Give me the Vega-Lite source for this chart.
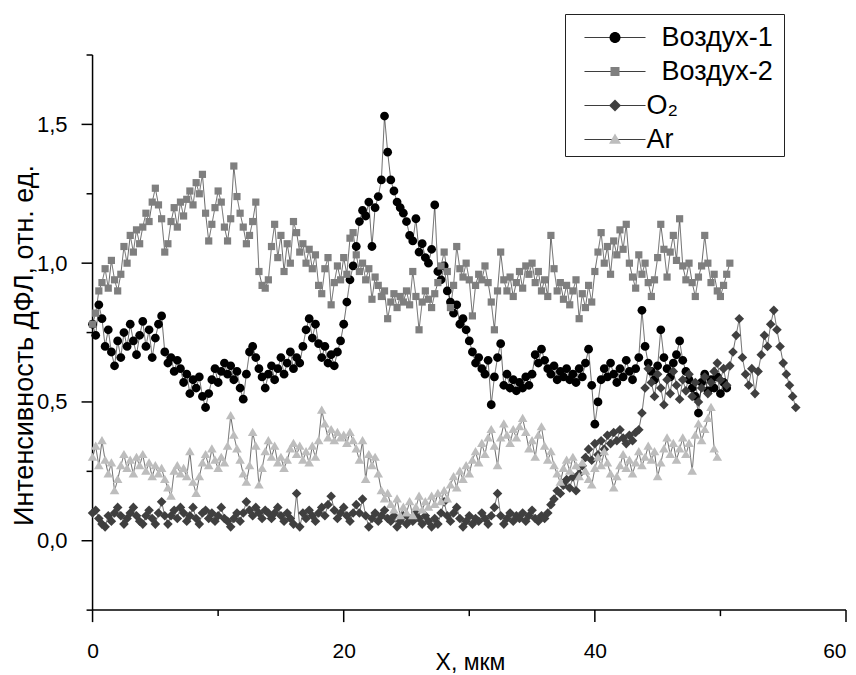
{
"$schema": "https://vega.github.io/schema/vega-lite/v6.json",
"width": 766, "height": 569,
"autosize": {"type": "none"},
"padding": {"left": 80, "top": 55, "right": 10, "bottom": 51},
"background": "white",
"config": {"view": {"stroke": null}, "font": "Liberation Sans"},
"datasets": {"d": [
{"x":0,"a":0.78,"b":0.78,"o":0.10,"r":0.30},
{"x":0.25,"a":0.74,"b":0.82,"o":0.11,"r":0.34},
{"x":0.5,"a":0.85,"b":0.90,"o":0.08,"r":0.27},
{"x":0.75,"a":0.80,"b":0.93,"o":0.06,"r":0.36},
{"x":1,"a":0.70,"b":0.98,"o":0.05,"r":0.29},
{"x":1.25,"a":0.76,"b":0.91,"o":0.09,"r":0.24},
{"x":1.5,"a":0.68,"b":1.01,"o":0.07,"r":0.28},
{"x":1.75,"a":0.63,"b":0.94,"o":0.10,"r":0.18},
{"x":2,"a":0.72,"b":0.90,"o":0.12,"r":0.22},
{"x":2.25,"a":0.66,"b":0.96,"o":0.09,"r":0.27},
{"x":2.5,"a":0.75,"b":1.06,"o":0.06,"r":0.31},
{"x":2.75,"a":0.70,"b":1.00,"o":0.08,"r":0.26},
{"x":3,"a":0.78,"b":1.10,"o":0.10,"r":0.29},
{"x":3.25,"a":0.72,"b":1.04,"o":0.12,"r":0.24},
{"x":3.5,"a":0.67,"b":1.12,"o":0.09,"r":0.30},
{"x":3.75,"a":0.74,"b":1.07,"o":0.07,"r":0.27},
{"x":4,"a":0.79,"b":1.13,"o":0.06,"r":0.31},
{"x":4.25,"a":0.70,"b":1.18,"o":0.09,"r":0.25},
{"x":4.5,"a":0.76,"b":1.15,"o":0.11,"r":0.28},
{"x":4.75,"a":0.66,"b":1.22,"o":0.08,"r":0.23},
{"x":5,"a":0.73,"b":1.27,"o":0.06,"r":0.27},
{"x":5.25,"a":0.78,"b":1.21,"o":0.10,"r":0.24},
{"x":5.5,"a":0.81,"b":1.16,"o":0.14,"r":0.26},
{"x":5.75,"a":0.68,"b":1.04,"o":0.09,"r":0.22},
{"x":6,"a":0.64,"b":1.07,"o":0.06,"r":0.19},
{"x":6.25,"a":0.66,"b":1.15,"o":0.09,"r":0.16},
{"x":6.5,"a":0.61,"b":1.20,"o":0.11,"r":0.25},
{"x":6.75,"a":0.65,"b":1.13,"o":0.08,"r":0.27},
{"x":7,"a":0.62,"b":1.22,"o":0.12,"r":0.24},
{"x":7.25,"a":0.57,"b":1.17,"o":0.10,"r":0.26},
{"x":7.5,"a":0.60,"b":1.23,"o":0.07,"r":0.23},
{"x":7.75,"a":0.53,"b":1.26,"o":0.09,"r":0.32},
{"x":8,"a":0.58,"b":1.21,"o":0.12,"r":0.21},
{"x":8.25,"a":0.55,"b":1.29,"o":0.08,"r":0.17},
{"x":8.5,"a":0.59,"b":1.25,"o":0.06,"r":0.23},
{"x":8.75,"a":0.52,"b":1.32,"o":0.10,"r":0.28},
{"x":9,"a":0.48,"b":1.18,"o":0.11,"r":0.31},
{"x":9.25,"a":0.53,"b":1.08,"o":0.08,"r":0.27},
{"x":9.5,"a":0.58,"b":1.14,"o":0.10,"r":0.33},
{"x":9.75,"a":0.62,"b":1.20,"o":0.07,"r":0.29},
{"x":10,"a":0.57,"b":1.26,"o":0.09,"r":0.26},
{"x":10.25,"a":0.61,"b":1.22,"o":0.12,"r":0.30},
{"x":10.5,"a":0.64,"b":1.13,"o":0.08,"r":0.28},
{"x":10.75,"a":0.60,"b":1.08,"o":0.07,"r":0.34},
{"x":11,"a":0.63,"b":1.16,"o":0.05,"r":0.45},
{"x":11.25,"a":0.58,"b":1.35,"o":0.08,"r":0.38},
{"x":11.5,"a":0.61,"b":1.24,"o":0.10,"r":0.33},
{"x":11.75,"a":0.55,"b":1.18,"o":0.07,"r":0.29},
{"x":12,"a":0.51,"b":1.13,"o":0.10,"r":0.24},
{"x":12.25,"a":0.60,"b":1.07,"o":0.14,"r":0.21},
{"x":12.5,"a":0.68,"b":1.10,"o":0.11,"r":0.27},
{"x":12.75,"a":0.70,"b":1.15,"o":0.09,"r":0.39},
{"x":13,"a":0.66,"b":1.22,"o":0.12,"r":0.34},
{"x":13.25,"a":0.62,"b":0.97,"o":0.10,"r":0.20},
{"x":13.5,"a":0.59,"b":0.92,"o":0.08,"r":0.26},
{"x":13.75,"a":0.55,"b":0.91,"o":0.11,"r":0.32},
{"x":14,"a":0.60,"b":0.94,"o":0.10,"r":0.36},
{"x":14.25,"a":0.63,"b":1.06,"o":0.08,"r":0.30},
{"x":14.5,"a":0.58,"b":1.14,"o":0.10,"r":0.34},
{"x":14.75,"a":0.62,"b":1.02,"o":0.12,"r":0.28},
{"x":15,"a":0.66,"b":1.10,"o":0.09,"r":0.30},
{"x":15.25,"a":0.60,"b":0.97,"o":0.07,"r":0.26},
{"x":15.5,"a":0.64,"b":1.07,"o":0.10,"r":0.29},
{"x":15.75,"a":0.68,"b":1.00,"o":0.08,"r":0.33},
{"x":16,"a":0.62,"b":1.15,"o":0.06,"r":0.35},
{"x":16.25,"a":0.66,"b":1.11,"o":0.17,"r":0.31},
{"x":16.5,"a":0.64,"b":1.04,"o":0.05,"r":0.34},
{"x":16.75,"a":0.70,"b":1.07,"o":0.10,"r":0.29},
{"x":17,"a":0.76,"b":1.00,"o":0.08,"r":0.32},
{"x":17.25,"a":0.80,"b":1.05,"o":0.11,"r":0.28},
{"x":17.5,"a":0.73,"b":0.98,"o":0.09,"r":0.34},
{"x":17.75,"a":0.78,"b":1.03,"o":0.07,"r":0.30},
{"x":18,"a":0.71,"b":0.92,"o":0.10,"r":0.36},
{"x":18.25,"a":0.66,"b":0.89,"o":0.12,"r":0.47},
{"x":18.5,"a":0.70,"b":0.98,"o":0.09,"r":0.42},
{"x":18.75,"a":0.64,"b":1.02,"o":0.13,"r":0.37},
{"x":19,"a":0.67,"b":0.85,"o":0.16,"r":0.40},
{"x":19.25,"a":0.63,"b":0.93,"o":0.11,"r":0.36},
{"x":19.5,"a":0.68,"b":0.99,"o":0.08,"r":0.39},
{"x":19.75,"a":0.72,"b":0.94,"o":0.10,"r":0.37},
{"x":20,"a":0.78,"b":1.02,"o":0.12,"r":0.38},
{"x":20.25,"a":0.86,"b":0.96,"o":0.09,"r":0.35},
{"x":20.5,"a":0.94,"b":1.09,"o":0.07,"r":0.39},
{"x":20.75,"a":0.99,"b":1.11,"o":0.10,"r":0.36},
{"x":21,"a":1.06,"b":1.03,"o":0.13,"r":0.33},
{"x":21.25,"a":1.15,"b":0.97,"o":0.10,"r":0.29},
{"x":21.5,"a":1.19,"b":1.00,"o":0.15,"r":0.36},
{"x":21.75,"a":1.17,"b":0.94,"o":0.09,"r":0.22},
{"x":22,"a":1.22,"b":0.98,"o":0.05,"r":0.31},
{"x":22.25,"a":1.06,"b":0.87,"o":0.08,"r":0.27},
{"x":22.5,"a":1.20,"b":0.95,"o":0.10,"r":0.30},
{"x":22.75,"a":1.24,"b":0.92,"o":0.07,"r":0.24},
{"x":23,"a":1.30,"b":0.88,"o":0.09,"r":0.18},
{"x":23.25,"a":1.53,"b":0.90,"o":0.11,"r":0.15},
{"x":23.5,"a":1.40,"b":0.80,"o":0.08,"r":0.17},
{"x":23.75,"a":1.30,"b":0.86,"o":0.07,"r":0.13},
{"x":24,"a":1.26,"b":0.89,"o":0.09,"r":0.11},
{"x":24.25,"a":1.22,"b":0.84,"o":0.05,"r":0.15},
{"x":24.5,"a":1.20,"b":0.88,"o":0.07,"r":0.09},
{"x":24.75,"a":1.18,"b":0.86,"o":0.09,"r":0.12},
{"x":25,"a":1.15,"b":0.90,"o":0.06,"r":0.10},
{"x":25.25,"a":1.10,"b":0.85,"o":0.08,"r":0.14},
{"x":25.5,"a":1.08,"b":0.97,"o":0.07,"r":0.09},
{"x":25.75,"a":1.16,"b":0.88,"o":0.10,"r":0.12},
{"x":26,"a":1.04,"b":0.76,"o":0.08,"r":0.16},
{"x":26.25,"a":1.07,"b":0.86,"o":0.06,"r":0.11},
{"x":26.5,"a":1.02,"b":0.90,"o":0.09,"r":0.14},
{"x":26.75,"a":1.00,"b":0.87,"o":0.07,"r":0.12},
{"x":27,"a":1.05,"b":0.84,"o":0.05,"r":0.16},
{"x":27.25,"a":1.21,"b":0.89,"o":0.08,"r":0.13},
{"x":27.5,"a":0.97,"b":0.93,"o":0.06,"r":0.17},
{"x":27.75,"a":0.94,"b":0.99,"o":0.10,"r":0.14},
{"x":28,"a":0.99,"b":1.04,"o":0.14,"r":0.18},
{"x":28.25,"a":0.90,"b":0.97,"o":0.09,"r":0.15},
{"x":28.5,"a":0.86,"b":0.84,"o":0.07,"r":0.20},
{"x":28.75,"a":0.82,"b":0.92,"o":0.10,"r":0.23},
{"x":29,"a":0.85,"b":1.06,"o":0.12,"r":0.19},
{"x":29.25,"a":0.78,"b":0.98,"o":0.08,"r":0.25},
{"x":29.5,"a":0.80,"b":0.95,"o":0.05,"r":0.22},
{"x":29.75,"a":0.76,"b":1.00,"o":0.07,"r":0.27},
{"x":30,"a":0.72,"b":0.94,"o":0.09,"r":0.24},
{"x":30.25,"a":0.68,"b":0.81,"o":0.06,"r":0.29},
{"x":30.5,"a":0.64,"b":0.92,"o":0.08,"r":0.32},
{"x":30.75,"a":0.66,"b":0.96,"o":0.07,"r":0.28},
{"x":31,"a":0.62,"b":0.94,"o":0.10,"r":0.35},
{"x":31.25,"a":0.60,"b":0.99,"o":0.08,"r":0.31},
{"x":31.5,"a":0.65,"b":0.93,"o":0.06,"r":0.37},
{"x":31.75,"a":0.49,"b":0.86,"o":0.09,"r":0.40},
{"x":32,"a":0.59,"b":0.76,"o":0.12,"r":0.34},
{"x":32.25,"a":0.66,"b":0.90,"o":0.17,"r":0.27},
{"x":32.5,"a":0.71,"b":1.04,"o":0.09,"r":0.37},
{"x":32.75,"a":0.56,"b":0.94,"o":0.06,"r":0.42},
{"x":33,"a":0.60,"b":0.90,"o":0.08,"r":0.38},
{"x":33.25,"a":0.55,"b":0.95,"o":0.10,"r":0.35},
{"x":33.5,"a":0.58,"b":0.88,"o":0.07,"r":0.40},
{"x":33.75,"a":0.54,"b":0.93,"o":0.09,"r":0.37},
{"x":34,"a":0.57,"b":0.97,"o":0.08,"r":0.41},
{"x":34.25,"a":0.55,"b":0.91,"o":0.10,"r":0.44},
{"x":34.5,"a":0.59,"b":0.99,"o":0.07,"r":0.39},
{"x":34.75,"a":0.56,"b":0.96,"o":0.09,"r":0.33},
{"x":35,"a":0.60,"b":1.00,"o":0.11,"r":0.36},
{"x":35.25,"a":0.67,"b":0.93,"o":0.08,"r":0.30},
{"x":35.5,"a":0.64,"b":0.97,"o":0.07,"r":0.38},
{"x":35.75,"a":0.69,"b":0.90,"o":0.09,"r":0.41},
{"x":36,"a":0.65,"b":0.94,"o":0.08,"r":0.34},
{"x":36.25,"a":0.62,"b":0.88,"o":0.10,"r":0.29},
{"x":36.5,"a":0.60,"b":1.10,"o":0.13,"r":0.32},
{"x":36.75,"a":0.63,"b":0.98,"o":0.15,"r":0.27},
{"x":37,"a":0.58,"b":0.90,"o":0.18,"r":0.24},
{"x":37.25,"a":0.61,"b":0.93,"o":0.17,"r":0.21},
{"x":37.5,"a":0.59,"b":0.87,"o":0.20,"r":0.26},
{"x":37.75,"a":0.62,"b":0.92,"o":0.22,"r":0.29},
{"x":38,"a":0.58,"b":0.85,"o":0.19,"r":0.25},
{"x":38.25,"a":0.60,"b":0.90,"o":0.23,"r":0.30},
{"x":38.5,"a":0.57,"b":0.94,"o":0.18,"r":0.27},
{"x":38.75,"a":0.62,"b":0.80,"o":0.24,"r":0.23},
{"x":39,"a":0.59,"b":0.89,"o":0.27,"r":0.28},
{"x":39.25,"a":0.64,"b":0.84,"o":0.30,"r":0.25},
{"x":39.5,"a":0.69,"b":0.92,"o":0.33,"r":0.22},
{"x":39.75,"a":0.56,"b":0.86,"o":0.29,"r":0.20},
{"x":40,"a":0.42,"b":0.97,"o":0.35,"r":0.26},
{"x":40.25,"a":0.50,"b":1.04,"o":0.31,"r":0.30},
{"x":40.5,"a":0.58,"b":1.11,"o":0.36,"r":0.27},
{"x":40.75,"a":0.62,"b":1.00,"o":0.33,"r":0.32},
{"x":41,"a":0.59,"b":1.06,"o":0.38,"r":0.28},
{"x":41.25,"a":0.64,"b":0.96,"o":0.35,"r":0.24},
{"x":41.5,"a":0.60,"b":1.08,"o":0.39,"r":0.19},
{"x":41.75,"a":0.57,"b":1.03,"o":0.36,"r":0.23},
{"x":42,"a":0.62,"b":1.12,"o":0.40,"r":0.27},
{"x":42.25,"a":0.59,"b":1.05,"o":0.37,"r":0.31},
{"x":42.5,"a":0.65,"b":1.14,"o":0.35,"r":0.26},
{"x":42.75,"a":0.61,"b":1.00,"o":0.38,"r":0.29},
{"x":43,"a":0.58,"b":0.95,"o":0.36,"r":0.24},
{"x":43.25,"a":0.62,"b":0.91,"o":0.39,"r":0.28},
{"x":43.5,"a":0.66,"b":1.03,"o":0.40,"r":0.32},
{"x":43.75,"a":0.83,"b":0.96,"o":0.46,"r":0.27},
{"x":44,"a":0.70,"b":1.00,"o":0.55,"r":0.30},
{"x":44.25,"a":0.64,"b":0.93,"o":0.62,"r":0.34},
{"x":44.5,"a":0.61,"b":0.88,"o":0.57,"r":0.29},
{"x":44.75,"a":0.58,"b":0.94,"o":0.52,"r":0.32},
{"x":45,"a":0.63,"b":1.02,"o":0.60,"r":0.23},
{"x":45.25,"a":0.76,"b":1.14,"o":0.55,"r":0.28},
{"x":45.5,"a":0.66,"b":1.05,"o":0.49,"r":0.33},
{"x":45.75,"a":0.62,"b":0.95,"o":0.58,"r":0.37},
{"x":46,"a":0.59,"b":1.04,"o":0.53,"r":0.31},
{"x":46.25,"a":0.64,"b":1.10,"o":0.61,"r":0.35},
{"x":46.5,"a":0.67,"b":1.01,"o":0.56,"r":0.29},
{"x":46.75,"a":0.72,"b":1.16,"o":0.51,"r":0.33},
{"x":47,"a":0.65,"b":0.99,"o":0.58,"r":0.37},
{"x":47.25,"a":0.61,"b":0.94,"o":0.54,"r":0.31},
{"x":47.5,"a":0.58,"b":1.00,"o":0.60,"r":0.35},
{"x":47.75,"a":0.55,"b":0.93,"o":0.52,"r":0.25},
{"x":48,"a":0.52,"b":0.88,"o":0.57,"r":0.38},
{"x":48.25,"a":0.46,"b":0.95,"o":0.50,"r":0.42},
{"x":48.5,"a":0.57,"b":0.99,"o":0.55,"r":0.36},
{"x":48.75,"a":0.60,"b":1.10,"o":0.59,"r":0.40},
{"x":49,"a":0.54,"b":1.00,"o":0.53,"r":0.44},
{"x":49.25,"a":0.58,"b":0.93,"o":0.57,"r":0.48},
{"x":49.5,"a":0.55,"b":0.96,"o":0.61,"r":0.33},
{"x":49.75,"a":0.59,"b":0.90,"o":0.64,"r":0.30},
{"x":50,"a":0.53,"b":0.88,"o":0.58},
{"x":50.25,"a":0.57,"b":0.92,"o":0.62},
{"x":50.5,"a":0.55,"b":0.96,"o":0.56},
{"x":50.75,"b":1.00,"o":0.63},
{"x":51,"o":0.68},
{"x":51.25,"o":0.74},
{"x":51.5,"o":0.80},
{"x":51.75,"o":0.66},
{"x":52,"o":0.60},
{"x":52.25,"o":0.56},
{"x":52.5,"o":0.62},
{"x":52.75,"o":0.53},
{"x":53,"o":0.61},
{"x":53.25,"o":0.67},
{"x":53.5,"o":0.74},
{"x":53.75,"o":0.70},
{"x":54,"o":0.78},
{"x":54.25,"o":0.83},
{"x":54.5,"o":0.76},
{"x":54.75,"o":0.70},
{"x":55,"o":0.64},
{"x":55.25,"o":0.60},
{"x":55.5,"o":0.56},
{"x":55.75,"o":0.52},
{"x":56,"o":0.48}
],
"xmajor": [{"t": 0}, {"t": 20}, {"t": 40}, {"t": 60}],
"xminor": [{"t": 10}, {"t": 30}, {"t": 50}],
"ymajor": [{"t": 0}, {"t": 0.5}, {"t": 1}, {"t": 1.5}],
"yminor": [{"t": -0.25}, {"t": 0.25}, {"t": 0.75}, {"t": 1.25}, {"t": 1.75}],
"frame": [{"t": 0}]
},
"resolve": {"axis": {"x": "independent", "y": "independent"}},
"layer": [
  {"data": {"name": "frame"},
   "mark": {"type": "rule", "color": "black", "strokeWidth": 1.5},
   "encoding": {
     "x": {"datum": 0, "type": "quantitative", "scale": {"domain": [-1, 60], "nice": false, "zero": false}, "axis": null},
     "y": {"datum": -0.25, "type": "quantitative", "scale": {"domain": [-0.3, 1.75], "nice": false, "zero": false}, "axis": null},
     "y2": {"datum": 1.75}}},
  {"data": {"name": "frame"},
   "mark": {"type": "rule", "color": "black", "strokeWidth": 1.5},
   "encoding": {
     "x": {"datum": 0, "type": "quantitative", "axis": null},
     "x2": {"datum": 60},
     "y": {"datum": -0.25, "type": "quantitative", "axis": null}}},
  {"data": {"name": "xmajor"},
   "mark": {"type": "rule", "color": "black", "strokeWidth": 1.5},
   "encoding": {
     "x": {"field": "t", "type": "quantitative", "axis": null},
     "y": {"datum": -0.25, "type": "quantitative", "axis": null},
     "y2": {"datum": -0.2932}}},
  {"data": {"name": "xminor"},
   "mark": {"type": "rule", "color": "black", "strokeWidth": 1.5},
   "encoding": {
     "x": {"field": "t", "type": "quantitative", "axis": null},
     "y": {"datum": -0.25, "type": "quantitative", "axis": null},
     "y2": {"datum": -0.2716}}},
  {"data": {"name": "ymajor"},
   "mark": {"type": "rule", "color": "black", "strokeWidth": 1.5},
   "encoding": {
     "y": {"field": "t", "type": "quantitative", "axis": null},
     "x": {"datum": 0, "type": "quantitative", "axis": null},
     "x2": {"datum": -0.876}}},
  {"data": {"name": "yminor"},
   "mark": {"type": "rule", "color": "black", "strokeWidth": 1.5},
   "encoding": {
     "y": {"field": "t", "type": "quantitative", "axis": null},
     "x": {"datum": 0, "type": "quantitative", "axis": null},
     "x2": {"datum": -0.478}}},
  {"data": {"name": "d"},
   "transform": [
     {"fold": ["a", "b", "o", "r"], "as": ["series", "value"]},
     {"filter": "isValid(datum.value)"}
   ],
   "mark": {"type": "line", "color": "black", "strokeWidth": 0.6},
   "encoding": {
     "x": {"field": "x", "type": "quantitative",
       "scale": {"domain": [-1, 60], "nice": false, "zero": false},
       "axis": {"orient": "bottom", "values": [0, 20, 40, 60], "title": "X, мкм", "grid": false, "domain": false, "ticks": false, "tickSize": 0,
         "labelFlush": false, "labelOverlap": false,
         "labelAlign": {"condition": {"test": "datum.value === 60", "value": "right"}, "value": "center"},
         "labelFont": "Liberation Sans Narrow, Liberation Sans", "labelFontSize": 21, "labelColor": "black", "labelPadding": 16,
         "titleFont": "Liberation Sans Narrow, Liberation Sans", "titleFontSize": 23, "titleFontWeight": "normal", "titleColor": "black",
         "titleX": 390, "titleY": 45, "titleAlign": "center", "titleBaseline": "alphabetic"}},
     "y": {"field": "value", "type": "quantitative",
       "scale": {"domain": [-0.3, 1.75], "nice": false, "zero": false},
       "axis": {"orient": "left", "values": [0, 0.5, 1, 1.5], "title": "Интенсивность ДФЛ, отн. ед.", "grid": false, "domain": false, "ticks": false, "tickSize": 0,
         "labelExpr": "replace(format(datum.value, '.1f'), '.', ',')",
         "labelOverlap": false,
         "labelFont": "Liberation Sans", "labelFontSize": 22, "labelColor": "black", "labelPadding": 13,
         "titleFont": "Liberation Sans", "titleFontSize": 27, "titleFontWeight": "normal", "titleColor": "black",
         "titleX": -56, "titleY": 290, "titleAngle": -90, "titleAlign": "center", "titleBaseline": "middle"}},
     "strokeDash": {"field": "series", "type": "nominal",
       "scale": {"domain": ["a", "b", "o", "r"], "range": [[1, 0], [1, 0], [1, 0], [1, 0]]},
       "legend": {"orient": "none", "legendX": 485, "legendY": -41, "title": "\u200b", "titleFontSize": 6, "titlePadding": 1,
         "symbolType": "M-7.6,0H7.6", "symbolSize": 64, "symbolStrokeColor": "black", "symbolStrokeWidth": 1,
         "symbolOffset": 33.5, "labelOpacity": 0, "labelFont": "Liberation Sans", "labelFontSize": 27, "labelOffset": 18, "rowPadding": 6, "padding": 3,
         "labelExpr": "datum.label == 'a' ? '\u200b\u00a0\u00a0Воздух-1\u00a0\u200b' : datum.label == 'b' ? '\u200b\u00a0\u00a0Воздух-2\u00a0\u200b' : datum.label == 'o' ? 'O₂' : 'Ar'"}}
   }},
  {"data": {"name": "d"},
   "transform": [
     {"fold": ["a", "b", "o", "r"], "as": ["series", "value"]},
     {"filter": "isValid(datum.value)"}
   ],
   "mark": {"type": "point", "filled": true, "opacity": 1, "size": 64, "strokeWidth": 0},
   "encoding": {
     "x": {"field": "x", "type": "quantitative", "axis": null},
     "y": {"field": "value", "type": "quantitative", "axis": null},
     "color": {"field": "series", "type": "nominal",
       "scale": {"range": ["#000000", "#7f7f7f", "#3f3f3f", "#bdbdbd"]},
       "legend": {"orient": "none", "legendX": 485, "legendY": -41, "title": "\u200b", "titleFontSize": 6, "titlePadding": 1,
         "labelFont": "Liberation Sans", "labelFontSize": 27, "labelColor": "black", "labelOffset": 18, "rowPadding": 6, "padding": 3,
         "symbolOffset": 33.5, "strokeColor": "#222222", "symbolStrokeWidth": 0, "symbolOpacity": 1,
         "labelExpr": "datum.label == 'a' ? '\u200b\u00a0\u00a0Воздух-1\u00a0\u200b' : datum.label == 'b' ? '\u200b\u00a0\u00a0Воздух-2\u00a0\u200b' : datum.label == 'o' ? 'O₂' : 'Ar'"}},
     "shape": {"field": "series", "type": "nominal",
       "scale": {"range": [
         "M1.1,0A1.1,1.1,0,1,1,-1.1,0A1.1,1.1,0,1,1,1.1,0Z",
         "M-0.9,-0.9H0.9V0.9H-0.9Z",
         "M-1.2,0L0,-1.2L1.2,0L0,1.2Z",
         "M0,-1.2L1.2,0.85L-1.2,0.85Z"]},
       "legend": {"orient": "none", "legendX": 485, "legendY": -41, "title": "\u200b", "titleFontSize": 6, "titlePadding": 1,
         "labelFont": "Liberation Sans", "labelFontSize": 27, "labelColor": "black", "labelOffset": 18, "rowPadding": 6, "padding": 3,
         "symbolOffset": 33.5, "strokeColor": "#222222", "symbolStrokeWidth": 0, "symbolOpacity": 1,
         "labelExpr": "datum.label == 'a' ? '\u200b\u00a0\u00a0Воздух-1\u00a0\u200b' : datum.label == 'b' ? '\u200b\u00a0\u00a0Воздух-2\u00a0\u200b' : datum.label == 'o' ? 'O₂' : 'Ar'"}},
     "order": {"field": "series"}
   }}
]
}
